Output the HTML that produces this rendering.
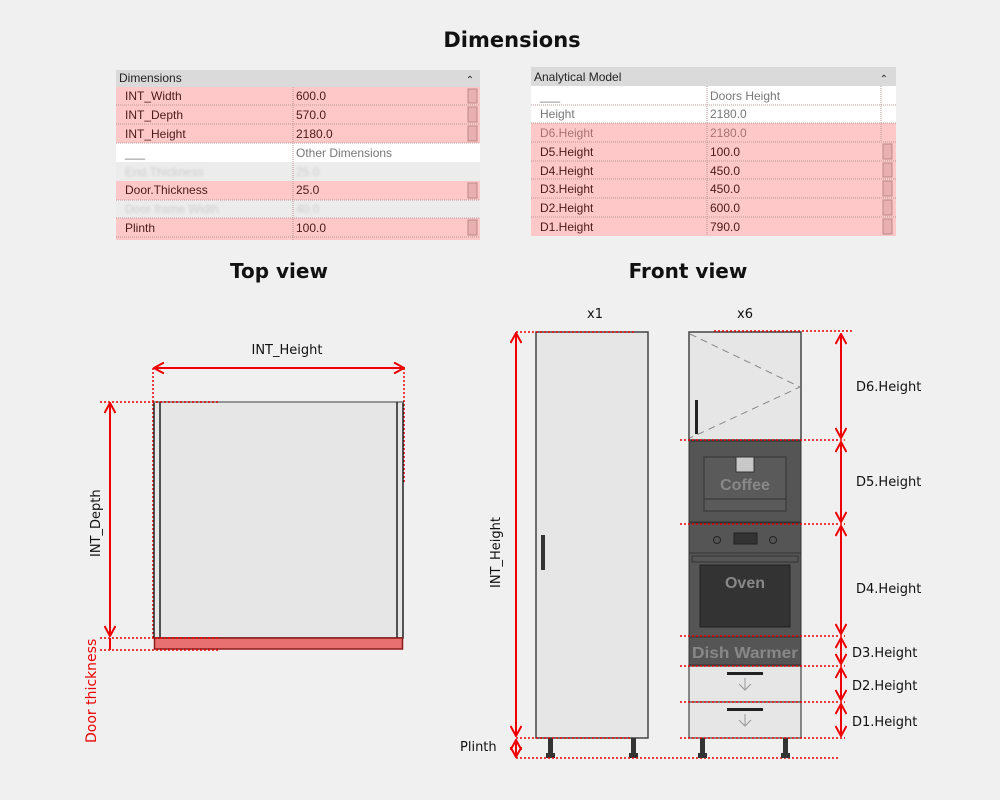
<!DOCTYPE html>
<html><head><meta charset="utf-8"><style>
html,body{margin:0;padding:0;background:#f0f0f0}
svg{display:block}
text{font-family:"DejaVu Sans","Liberation Sans",sans-serif}
.t{font-family:"Liberation Sans",sans-serif;font-size:12px;fill:#4a1a1a}
.g{font-family:"Liberation Sans",sans-serif;font-size:12px;fill:#777}
.b{font-family:"Liberation Sans",sans-serif;font-size:12px;fill:#ccc;filter:url(#blur)}
.hd{font-family:"Liberation Sans",sans-serif;font-size:12px;fill:#222}
.ap{font-family:"Liberation Sans",sans-serif;font-weight:bold;font-size:16px;fill:#888}
.lbl{font-size:13px;fill:#111}
.dot{stroke:#e00;stroke-width:1.5;stroke-dasharray:2 2;fill:none}
.dim{stroke:#e00;stroke-width:2;fill:none}
</style></head><body>
<svg width="1000" height="800" viewBox="0 0 1000 800" xmlns="http://www.w3.org/2000/svg">
<defs>
<filter id="blur"><feGaussianBlur stdDeviation="1.2"/></filter>
<marker id="ar" viewBox="0 0 12 12" refX="11" refY="6" markerWidth="12" markerHeight="12" markerUnits="userSpaceOnUse" orient="auto-start-reverse">
<path d="M1,0.5 L11,6 L1,11.5" fill="none" stroke="#e00" stroke-width="2"/></marker>
</defs>
<rect width="1000" height="800" fill="#f0f0f0"/>
<text x="512" y="47" text-anchor="middle" font-size="21" font-weight="bold" fill="#111">Dimensions</text>

<!-- Table 1 -->
<rect x="116" y="70" width="364" height="17" fill="#dadada"/>
<text class="hd" x="119" y="82">Dimensions</text>
<text x="470" y="83" font-size="10" fill="#222" text-anchor="middle">⌃</text>
<g>
<rect x="116" y="87" width="364" height="56" fill="#ffc8c8"/>
<rect x="116" y="143" width="364" height="19" fill="#fff"/>
<rect x="116" y="162" width="364" height="19" fill="#ececec"/>
<rect x="116" y="181" width="364" height="19" fill="#ffc8c8"/>
<rect x="116" y="200" width="364" height="18" fill="#ececec"/>
<rect x="116" y="218" width="364" height="22" fill="#ffc8c8"/>
<g stroke="#b99" stroke-width="1" stroke-dasharray="1 1">
<line x1="116" y1="105" x2="480" y2="105"/><line x1="116" y1="124" x2="480" y2="124"/><line x1="116" y1="143" x2="480" y2="143"/><line x1="116" y1="200" x2="480" y2="200"/><line x1="116" y1="218" x2="480" y2="218"/><line x1="116" y1="237" x2="480" y2="237"/>
<line x1="293" y1="87" x2="293" y2="240"/>
</g>
<g fill="#e8b0b0" stroke="#b88" stroke-width="1">
<rect x="468" y="89" width="9" height="14"/><rect x="468" y="107" width="9" height="15"/><rect x="468" y="126" width="9" height="15"/><rect x="468" y="183" width="9" height="15"/><rect x="468" y="220" width="9" height="15"/>
</g>
<text class="t" x="125" y="100">INT_Width</text><text class="t" x="296" y="100">600.0</text>
<text class="t" x="125" y="119">INT_Depth</text><text class="t" x="296" y="119">570.0</text>
<text class="t" x="125" y="138">INT_Height</text><text class="t" x="296" y="138">2180.0</text>
<text class="g" x="125" y="157">___</text><text class="g" x="296" y="157">Other Dimensions</text>
<text class="b" x="125" y="176">End.Thickness</text><text class="b" x="296" y="176">25.0</text>
<text class="t" x="125" y="194">Door.Thickness</text><text class="t" x="296" y="194">25.0</text>
<text class="b" x="125" y="213">Door frame Width</text><text class="b" x="296" y="213">40.0</text>
<text class="t" x="125" y="232">Plinth</text><text class="t" x="296" y="232">100.0</text>
</g>

<!-- Table 2 -->
<rect x="531" y="67" width="365" height="19" fill="#dadada"/>
<text class="hd" x="534" y="81">Analytical Model</text>
<text x="884" y="82" font-size="10" fill="#222" text-anchor="middle">⌃</text>
<rect x="531" y="86" width="365" height="37" fill="#fff"/>
<rect x="531" y="123" width="365" height="113" fill="#ffc8c8"/>
<g stroke="#b99" stroke-width="1" stroke-dasharray="1 1">
<line x1="531" y1="105" x2="896" y2="105"/><line x1="531" y1="123" x2="896" y2="123"/><line x1="531" y1="142" x2="896" y2="142"/><line x1="531" y1="161" x2="896" y2="161"/><line x1="531" y1="179" x2="896" y2="179"/><line x1="531" y1="198" x2="896" y2="198"/><line x1="531" y1="217" x2="896" y2="217"/>
<line x1="707" y1="86" x2="707" y2="236"/><line x1="881" y1="86" x2="881" y2="142"/>
</g>
<g fill="#e8b0b0" stroke="#b88" stroke-width="1">
<rect x="883" y="144" width="9" height="15"/><rect x="883" y="163" width="9" height="14"/><rect x="883" y="181" width="9" height="15"/><rect x="883" y="200" width="9" height="15"/><rect x="883" y="219" width="9" height="15"/>
</g>
<text class="g" x="540" y="100">___</text><text class="g" x="710" y="100">Doors Height</text>
<text class="g" x="540" y="118">Height</text><text class="g" x="710" y="118">2180.0</text>
<text class="t" x="540" y="137" fill-opacity="0.5">D6.Height</text><text class="t" x="710" y="137" fill-opacity="0.5">2180.0</text>
<text class="t" x="540" y="156">D5.Height</text><text class="t" x="710" y="156">100.0</text>
<text class="t" x="540" y="175">D4.Height</text><text class="t" x="710" y="175">450.0</text>
<text class="t" x="540" y="193">D3.Height</text><text class="t" x="710" y="193">450.0</text>
<text class="t" x="540" y="212">D2.Height</text><text class="t" x="710" y="212">600.0</text>
<text class="t" x="540" y="231">D1.Height</text><text class="t" x="710" y="231">790.0</text>

<text x="279" y="278" text-anchor="middle" font-size="20" font-weight="bold" fill="#111">Top view</text>
<text x="688" y="278" text-anchor="middle" font-size="20" font-weight="bold" fill="#111">Front view</text>

<!-- Top view -->
<text class="lbl" x="287" y="354" text-anchor="middle" font-size="14">INT_Height</text>
<line class="dim" x1="154" y1="368" x2="404" y2="368" marker-start="url(#ar)" marker-end="url(#ar)"/>
<line class="dot" x1="153" y1="368" x2="153" y2="640"/>
<line class="dot" x1="404" y1="368" x2="404" y2="483"/>
<rect x="154" y="402" width="249" height="236" fill="#e6e6e6" stroke="#222" stroke-width="1.5"/>
<line x1="154" y1="402" x2="403" y2="402" stroke="#999" stroke-width="1.5"/>
<line x1="160" y1="402" x2="160" y2="638" stroke="#222" stroke-width="1.5"/>
<line x1="397" y1="402" x2="397" y2="638" stroke="#222" stroke-width="1.5"/>
<rect x="154.5" y="638" width="248" height="11" fill="#e87070" stroke="#8b1a1a" stroke-width="1.5"/>
<line class="dot" x1="100" y1="402" x2="220" y2="402"/>
<line class="dot" x1="100" y1="638" x2="220" y2="638"/>
<line class="dot" x1="100" y1="650" x2="220" y2="650"/>
<line class="dim" x1="110" y1="403" x2="110" y2="636" marker-start="url(#ar)" marker-end="url(#ar)"/>
<line class="dim" x1="110" y1="638" x2="110" y2="650"/>
<text class="lbl" font-size="14" transform="translate(100,557) rotate(-90)">INT_Depth</text>
<text font-size="14" fill="#e00" transform="translate(96,743) rotate(-90)">Door thickness</text>

<!-- Front view -->
<text class="lbl" x="595" y="318" text-anchor="middle">x1</text>
<text class="lbl" x="745" y="318" text-anchor="middle">x6</text>
<rect x="536" y="332" width="112" height="406" fill="#e6e6e6" stroke="#444" stroke-width="1.5"/>
<rect x="541" y="535" width="4" height="35" fill="#333"/>
<rect x="548" y="738" width="5" height="15" fill="#333"/><rect x="546" y="753" width="9" height="5" fill="#333"/>
<rect x="631" y="738" width="5" height="15" fill="#333"/><rect x="629" y="753" width="9" height="5" fill="#333"/>
<line class="dim" x1="516" y1="333" x2="516" y2="736" marker-start="url(#ar)" marker-end="url(#ar)"/>
<line class="dim" x1="516" y1="740" x2="516" y2="757" marker-start="url(#ar)" marker-end="url(#ar)"/>
<line class="dot" x1="516" y1="332" x2="635" y2="332"/>
<line class="dot" x1="516" y1="738" x2="630" y2="738"/>
<line class="dot" x1="516" y1="758" x2="840" y2="758"/>
<text class="lbl" font-size="14" transform="translate(500,588) rotate(-90)">INT_Height</text>
<text class="lbl" font-size="14" x="460" y="751">Plinth</text>

<!-- right cabinet -->
<rect x="689" y="332" width="112" height="108" fill="#e6e6e6" stroke="#444" stroke-width="1.5"/>
<polyline points="690,334 800,387 690,438" fill="none" stroke="#888" stroke-width="1" stroke-dasharray="7 5"/>
<rect x="695" y="400" width="3" height="34" fill="#222"/>
<rect x="689" y="441" width="112" height="81" fill="#555" stroke="#333" stroke-width="1"/>
<rect x="704" y="457" width="82" height="54" fill="#5a5a5a" stroke="#333" stroke-width="1"/>
<line x1="704" y1="499" x2="786" y2="499" stroke="#333"/>
<rect x="736" y="457" width="18" height="15" fill="#c8c8c8" stroke="#333"/>
<text class="ap" x="745" y="490" text-anchor="middle">Coffee</text>
<rect x="689" y="523" width="112" height="114" fill="#555" stroke="#333" stroke-width="1"/>
<line x1="689" y1="553" x2="801" y2="553" stroke="#333"/>
<circle cx="717" cy="540" r="3.5" fill="none" stroke="#222"/>
<circle cx="773" cy="540" r="3.5" fill="none" stroke="#222"/>
<rect x="734" y="533" width="23" height="11" fill="#333" stroke="#222"/>
<rect x="692" y="556" width="106" height="6" fill="#555" stroke="#333"/>
<rect x="700" y="565" width="90" height="62" fill="#333" stroke="#222"/>
<text class="ap" x="745" y="588" text-anchor="middle">Oven</text>
<rect x="689" y="637" width="112" height="28" fill="#555" stroke="#333"/>
<text class="ap" x="745" y="658" text-anchor="middle" textLength="106" lengthAdjust="spacingAndGlyphs">Dish Warmer</text>
<rect x="689" y="666" width="112" height="36" fill="#e6e6e6" stroke="#444" stroke-width="1.2"/>
<rect x="727" y="672" width="36" height="3" fill="#222"/>
<path d="M745,678 V690 M739,684 L745,690 L751,684" fill="none" stroke="#999"/>
<rect x="689" y="702" width="112" height="36" fill="#e6e6e6" stroke="#444" stroke-width="1.2"/>
<rect x="727" y="708" width="36" height="3" fill="#222"/>
<path d="M745,714 V726 M739,720 L745,726 L751,720" fill="none" stroke="#999"/>
<rect x="700" y="738" width="5" height="15" fill="#333"/><rect x="698" y="753" width="9" height="5" fill="#333"/>
<rect x="783" y="738" width="5" height="15" fill="#333"/><rect x="781" y="753" width="9" height="5" fill="#333"/>

<g class="dot">
<line x1="714" y1="331" x2="852" y2="331"/>
<line x1="680" y1="440" x2="845" y2="440"/>
<line x1="680" y1="524" x2="845" y2="524"/>
<line x1="680" y1="636" x2="845" y2="636"/>
<line x1="680" y1="666" x2="845" y2="666"/>
<line x1="680" y1="702" x2="845" y2="702"/>
<line x1="680" y1="738" x2="845" y2="738"/>
</g>
<g class="dim">
<line x1="841" y1="334" x2="841" y2="438" marker-start="url(#ar)" marker-end="url(#ar)"/>
<line x1="841" y1="442" x2="841" y2="522" marker-start="url(#ar)" marker-end="url(#ar)"/>
<line x1="841" y1="526" x2="841" y2="634" marker-start="url(#ar)" marker-end="url(#ar)"/>
<line x1="841" y1="638" x2="841" y2="664" marker-start="url(#ar)" marker-end="url(#ar)"/>
<line x1="841" y1="668" x2="841" y2="700" marker-start="url(#ar)" marker-end="url(#ar)"/>
<line x1="841" y1="704" x2="841" y2="736" marker-start="url(#ar)" marker-end="url(#ar)"/>
</g>
<text class="lbl" x="856" y="391">D6.Height</text>
<text class="lbl" x="856" y="486">D5.Height</text>
<text class="lbl" x="856" y="593">D4.Height</text>
<text class="lbl" x="852" y="657">D3.Height</text>
<text class="lbl" x="852" y="690">D2.Height</text>
<text class="lbl" x="852" y="726">D1.Height</text>
</svg>
</body></html>
